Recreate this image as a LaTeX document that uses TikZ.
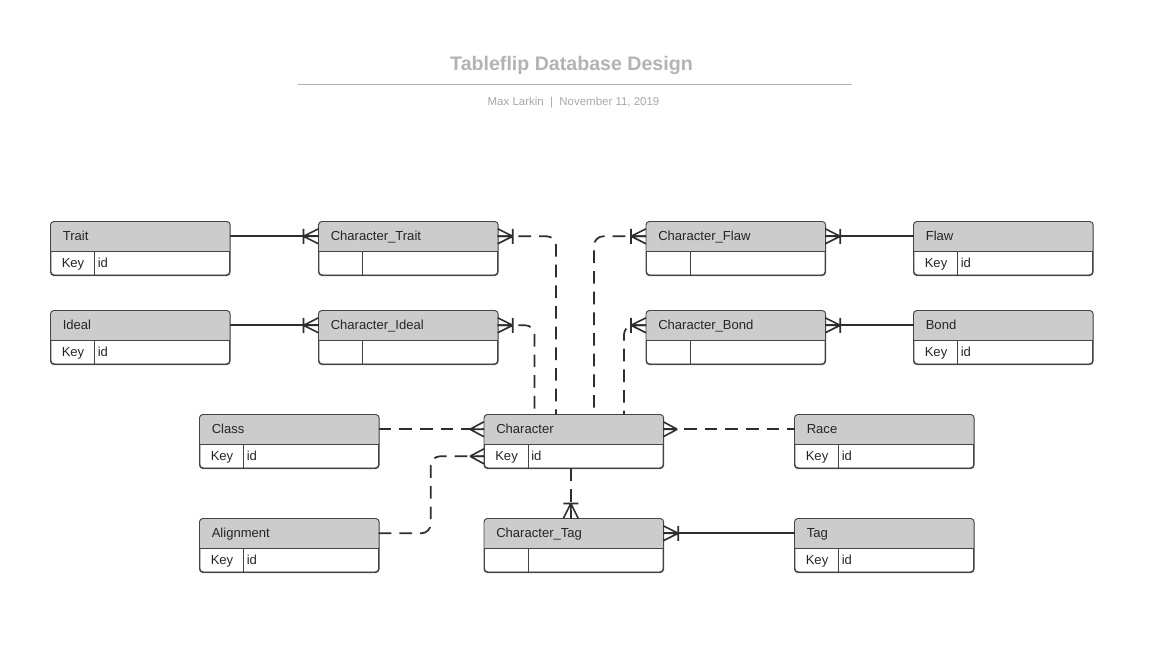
\documentclass[tikz,border=0pt]{standalone}
\usepackage{fontspec}
\setmainfont{Liberation Sans}
\usetikzlibrary{calc,shadows}
\definecolor{hdrgray}{HTML}{CCCCCC}
\definecolor{linegray}{HTML}{2E2E2E}
\definecolor{boxgray}{HTML}{444444}
\definecolor{titlegray}{HTML}{B3B3B3}
\definecolor{subgray}{HTML}{A8A8A8}
\tikzset{
  ebox/.style={draw=boxgray, line width=0.7pt, fill=white, rounded corners=2.5pt,
    minimum width=134pt, minimum height=39.75pt, inner sep=0pt,
    drop shadow={shadow xshift=0pt, shadow yshift=-1.3pt, opacity=0.22}},
  hdrbox/.style={minimum width=134pt, minimum height=21.75pt, inner sep=0pt},
  bodybox/.style={minimum width=134pt, minimum height=18pt, inner sep=0pt},
  etext/.style={inner sep=0pt, text height=7pt, text depth=0pt,
    font=\fontsize{9.8pt}{12pt}\selectfont, text=black!85},
  conn/.style={draw=linegray, line width=1.3pt},
  dashconn/.style={conn, dash pattern=on 9.5pt off 6pt},
  pics/many/.style={code={\draw[conn, line width=1.2pt] (-14,0) -- (0,-7.5) (-14,0) -- (0,0) (-14,0) -- (0,7.5);}},
  pics/onemany/.style={code={\draw[conn, line width=1.2pt] (-15,0) -- (0,-7.5) (-15,0) -- (0,0) (-15,0) -- (0,7.5) (-15,-7.5) -- (-15,7.5);}},
}
\newcommand\entity[6]{%
  \node[ebox, anchor=north west] (#1) at (#2,#3) {};
  \begin{scope}
    \clip[rounded corners=2.5pt] (#1.north west) rectangle (#1.south east);
    \fill[hdrgray] (#1.north west) rectangle ($(#1.north east)+(0,29)$);
  \end{scope}
  \draw[draw=boxgray, line width=0.7pt, rounded corners=2.5pt] (#1.north west) rectangle (#1.south east);
  \node[hdrbox, anchor=north west] (#1-h) at (#1.north west) {};
  \node[bodybox, anchor=north west] (#1-b) at (#1-h.south west) {};
  \draw[boxgray, line width=0.7pt] (#1-h.south west) -- (#1-h.south east);
  \draw[boxgray, line width=0.7pt] ($(#1-b.north west)+(44,0)$) -- ($(#1-b.south west)+(44,0)$);
  \node[etext, anchor=west] (#1-t) at ($(#1-h.west)+(12,0)$) {#4};
  \node[etext, anchor=west] (#1-k) at ($(#1-b.west)+(11,0)$) {#5};
  \node[etext, anchor=west] (#1-v) at ($(#1-b.west)+(47,0)$) {#6};
}
\begin{document}
\begin{tikzpicture}[x=0.75pt, y=-0.75pt]
\useasboundingbox[fill=white] (0,0) rectangle (1172,668);

% title
\node[anchor=base, inner sep=0pt, text=titlegray, font=\bfseries\fontsize{14.7pt}{17pt}\selectfont] (title) at (571.5,70.5) {Tableflip Database Design};
\coordinate (rl) at (298,84.5);
\coordinate (rr) at (851.5,84.5);
\draw[titlegray, line width=1.1pt] (rl) -- (rr);
\node[anchor=base, inner sep=0pt, text=subgray, font=\fontsize{8.6pt}{10pt}\selectfont] (sub) at (573.5,105.5) {Max Larkin\ \ |\ \ November 11, 2019};

% entities
\entity{trait}{50.5}{221.5}{Trait}{Key}{id}
\entity{ctrait}{318.5}{221.5}{Character\_Trait}{}{}
\entity{cflaw}{646}{221.5}{Character\_Flaw}{}{}
\entity{flaw}{913.5}{221.5}{Flaw}{Key}{id}
\entity{ideal}{50.5}{310.5}{Ideal}{Key}{id}
\entity{cideal}{318.5}{310.5}{Character\_Ideal}{}{}
\entity{cbond}{646}{310.5}{Character\_Bond}{}{}
\entity{bond}{913.5}{310.5}{Bond}{Key}{id}
\entity{class}{199.5}{414.5}{Class}{Key}{id}
\entity{char}{484}{414.5}{Character}{Key}{id}
\entity{race}{794.5}{414.5}{Race}{Key}{id}
\entity{align}{199.5}{518.5}{Alignment}{Key}{id}
\entity{ctag}{484}{518.5}{Character\_Tag}{}{}
\entity{tag}{794.5}{518.5}{Tag}{Key}{id}

% connectors
\draw[conn] (trait-h.east) -- (ctrait-h.west);
\pic at (ctrait-h.west) {onemany};
\draw[conn] (ideal-h.east) -- (cideal-h.west);
\pic at (cideal-h.west) {onemany};
\draw[conn] (cflaw-h.east) -- (flaw-h.west);
\pic[rotate=180] at (cflaw-h.east) {onemany};
\draw[conn] (cbond-h.east) -- (bond-h.west);
\pic[rotate=180] at (cbond-h.east) {onemany};

\draw[dashconn, rounded corners=7pt] (ctrait-h.east) -| ($(char.north west)+(72,0)$);
\pic[rotate=180] at (ctrait-h.east) {onemany};
\draw[dashconn, rounded corners=7pt] (cideal-h.east) -| ($(char.north west)+(50.5,0)$);
\pic[rotate=180] at (cideal-h.east) {onemany};
\draw[dashconn, rounded corners=7pt] (cflaw-h.west) -| ($(char.north west)+(110,0)$);
\pic at (cflaw-h.west) {onemany};
\draw[dashconn, rounded corners=7pt] (cbond-h.west) -| ($(char.north west)+(140,0)$);
\pic at (cbond-h.west) {onemany};

\draw[dashconn] (class-h.east) -- (char-h.west);
\pic at (char-h.west) {many};
\draw[dashconn] (char-h.east) -- (race-h.west);
\pic[rotate=180] at (char-h.east) {many};
\draw[dashconn, rounded corners=7pt] (align-h.east) -- ++(52,0) |- (char-b.west);
\pic at (char-b.west) {many};

\draw[dashconn] ($(char.south)+(-3,0)$) -- ($(ctag.north)+(-3,0)$);
\pic[rotate=-90] at ($(ctag.north)+(-3,0)$) {onemany};
\draw[conn] (ctag-h.east) -- (tag-h.west);
\pic[rotate=180] at (ctag-h.east) {onemany};
\end{tikzpicture}
\end{document}
